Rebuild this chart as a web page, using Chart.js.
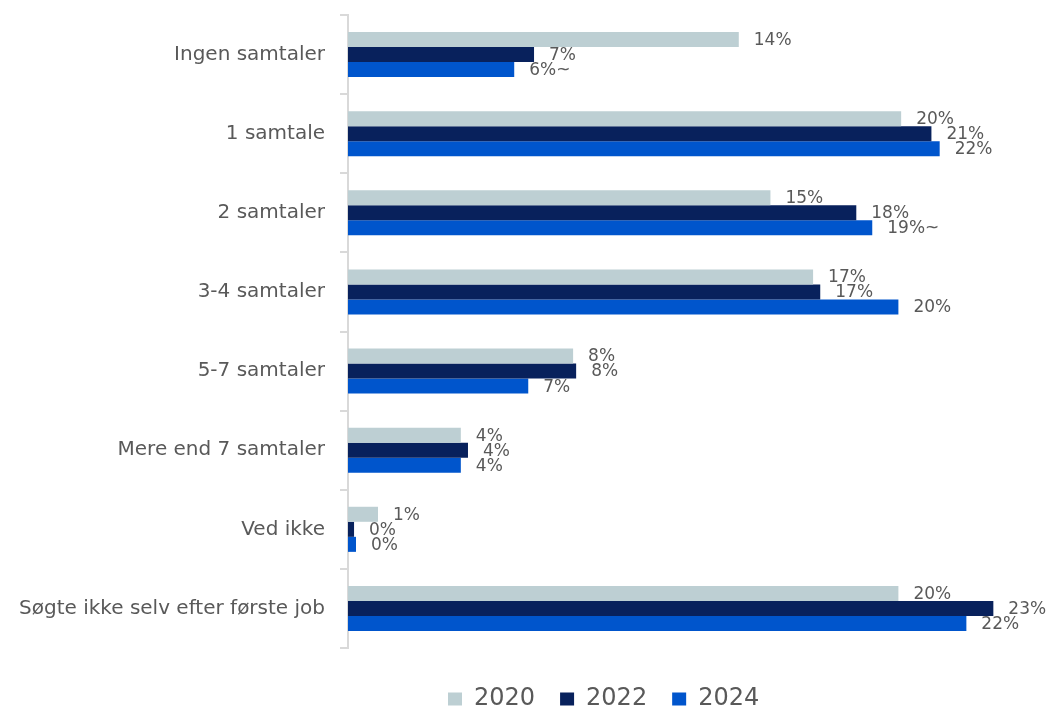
<!DOCTYPE html>
<html><head><meta charset="utf-8">
<script src="https://cdn.jsdelivr.net/npm/chart.js@4/dist/chart.umd.min.js"></script>
<style>html,body{margin:0;padding:0;background:#fff}#wrap{width:1052px;height:708px;position:relative}</style>
</head><body><div id="wrap"><canvas id="c"></canvas></div>
<script>
const categories = ["Ingen samtaler","1 samtale","2 samtaler","3-4 samtaler","5-7 samtaler","Mere end 7 samtaler","Ved ikke","Søgte ikke selv efter første job"];
const seriesNames = ["2020","2022","2024"];
const values2020 = [14.2, 20.1, 15.35, 16.9, 8.18, 4.1, 1.09, 20.0];
const values2022 = [6.76, 21.2, 18.47, 17.16, 8.29, 4.36, 0.22, 23.45];
const values2024 = [6.04, 21.5, 19.05, 20.0, 6.55, 4.1, 0.29, 22.47];
const labels2020 = ["14%","20%","15%","17%","8%","4%","1%","20%"];
const labels2022 = ["7%","21%","18%","17%","8%","4%","0%","23%"];
const labels2024 = ["6%~","22%","19%~","20%","7%","4%","0%","22%"];
const colors = ["#BDCFD3","#08215C","#0055CC"];

const FONT = "'DejaVu Sans', sans-serif";
const TEXT = "#595959";

const valueLabelPlugin = {
  id: 'valueLabels',
  afterDatasetsDraw(chart) {
    const ctx = chart.ctx;
    const all = [labels2020, labels2022, labels2024];
    ctx.save();
    ctx.font = "17px " + FONT;
    ctx.fillStyle = TEXT;
    ctx.textAlign = 'left';
    ctx.textBaseline = 'middle';
    chart.data.datasets.forEach((ds, i) => {
      const meta = chart.getDatasetMeta(i);
      meta.data.forEach((bar, j) => {
        ctx.fillText(all[i][j], bar.x + 15, bar.y + 1);
      });
    });
    ctx.restore();
  }
};

const legendShift = {
  id: 'legendShift',
  afterLayout(chart) {
    const lg = chart.legend;
    if (!lg || !lg.lineWidths) return;
    const pad = lg.options.labels.padding;
    const startX = (lg.left + pad + lg.right - lg.lineWidths[0]) / 2;
    const dx = 448 - startX;
    lg.left += dx; lg.right += dx;
    lg.top += 14; lg.bottom += 14;
  }
};

new Chart(document.getElementById('c'), {
  type: 'bar',
  data: {
    labels: categories,
    datasets: [
      { label: seriesNames[0], data: values2020, backgroundColor: colors[0] },
      { label: seriesNames[1], data: values2022, backgroundColor: colors[1] },
      { label: seriesNames[2], data: values2024, backgroundColor: colors[2] }
    ]
  },
  options: {
    indexAxis: 'y',
    responsive: true,
    maintainAspectRatio: false,
    animation: false,
    datasets: { bar: { categoryPercentage: 0.57, barPercentage: 1.0 } },
    layout: { padding: { top: 15, right: 16, bottom: 1, left: 0 } },
    scales: {
      x: { display: false, min: 0, max: 25 },
      y: {
        grid: { display: true, drawOnChartArea: false, drawTicks: true, tickLength: 8, color: '#D9D9D9', lineWidth: 2 },
        border: { display: true, color: '#D9D9D9', width: 2 },
        ticks: { color: TEXT, padding: 15, font: { family: FONT, size: 20 } },
        afterFit(scale) { scale.width = 348; scale.paddingTop = 0; scale.paddingBottom = 0; }
      }
    },
    plugins: {
      legend: {
        position: 'bottom',
        labels: { boxWidth: 14, boxHeight: 13, padding: 25, color: TEXT, font: { family: FONT, size: 24 } }
      },
      tooltip: { enabled: false }
    }
  },
  plugins: [valueLabelPlugin, legendShift]
});
</script>
</body></html>
